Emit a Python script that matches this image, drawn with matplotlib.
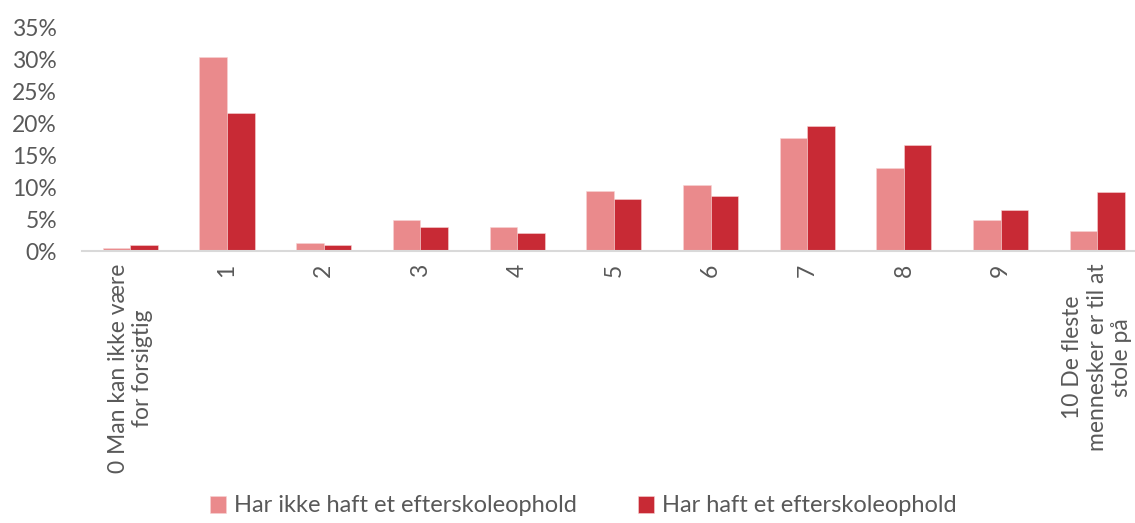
import numpy as np
import matplotlib.pyplot as plt
from matplotlib.ticker import PercentFormatter

categories = ['0 Man kan ikke være\nfor forsigtig', '1', '2', '3', '4', '5', '6', '7', '8', '9',
              '10 De fleste\nmennesker er til at\nstole på']
ikke_haft = [0.4, 30.4, 1.25, 4.9, 3.7, 9.4, 10.3, 17.7, 13.1, 4.9, 3.2]
haft = [0.9, 21.7, 0.9, 3.7, 2.8, 8.1, 8.7, 19.6, 16.6, 6.5, 9.2]
series_names = ['Har ikke haft et efterskoleophold', 'Har haft et efterskoleophold']

light = '#EA8A8C'
dark = '#C82A35'
grey = '#595959'

plt.rcParams['font.family'] = ['Lato', 'DejaVu Sans']

fig = plt.figure(figsize=(11.35, 5.23), dpi=100)
ax = fig.add_axes([82 / 1135, 1 - 251 / 523, 1 - 82 / 1135, (251 - 28) / 523])

x = np.arange(len(categories))
w = 0.285
ax.bar(x - w / 2, np.array(ikke_haft) / 100, w, color=light, edgecolor='#f6d4d4', linewidth=0.4,
       label=series_names[0])
ax.bar(x + w / 2, np.array(haft) / 100, w, color=dark, edgecolor='#f6d4d4', linewidth=0.4,
       label=series_names[1])

ax.set_ylim(0, 0.35)
ax.set_yticks(np.arange(0, 0.351, 0.05))
ax.yaxis.set_major_formatter(PercentFormatter(1.0, decimals=0))
ax.set_xlim(-0.5, 10.39)
ax.set_xticks(x)
ax.set_xticklabels(categories, rotation=90, ha='center', va='top', multialignment='center')

for s in ['top', 'right', 'left']:
    ax.spines[s].set_visible(False)
ax.spines['bottom'].set_color('#d9d9d9')
ax.spines['bottom'].set_linewidth(1.5)
ax.tick_params(axis='both', length=0, colors=grey, labelsize=16.5)
ax.tick_params(axis='y', pad=18)
ax.tick_params(axis='x', pad=9)

fig.legend(loc='lower center', bbox_to_anchor=(0.514, -0.028), ncol=2, frameon=False,
           fontsize=17, labelcolor=grey, handlelength=0.65, handleheight=0.75,
           handletextpad=0.35, columnspacing=2.6)

fig.savefig('out.png', dpi=100)
